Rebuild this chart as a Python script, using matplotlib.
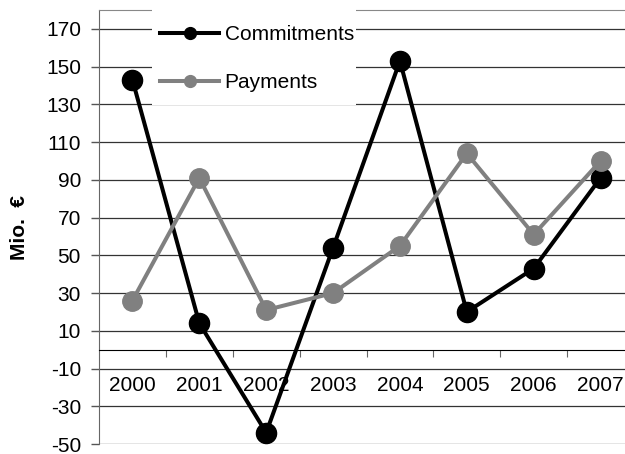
import matplotlib.pyplot as plt
from matplotlib.lines import Line2D
from matplotlib.patches import Rectangle
import numpy as np

plt.rcParams['font.family'] = ['Liberation Sans', 'DejaVu Sans']
plt.rcParams['axes.unicode_minus'] = False

# Данные
years = ["2000", "2001", "2002", "2003", "2004", "2005", "2006", "2007"]
commitments = [143, 14, -44, 54, 153, 20, 43, 91]
payments = [26, 91, 21, 30, 55, 104, 61, 100]
y_ticks = [-50, -30, -10, 10, 30, 50, 70, 90, 110, 130, 150, 170]

fig = plt.figure(figsize=(6.25, 4.54), dpi=100)
ax = fig.add_axes([99 / 625, 10 / 454, 535 / 625, 434 / 454])

x = np.arange(len(years))
ax.plot(x, commitments, color="black", lw=2.9, marker="o", ms=14.5, zorder=3)
ax.plot(x, payments, color="#808080", lw=2.9, marker="o", ms=14, zorder=4)

ax.set_xlim(-0.5, len(years) - 0.5)
ax.set_ylim(-50, 180)
ax.set_yticks(y_ticks)
ax.tick_params(axis="y", labelsize=15, length=6, width=1, color="#555555", pad=7)
ax.grid(axis="y", color="#333333", lw=0.9)
ax.set_axisbelow(True)

# ось X на нуле
ax.spines["bottom"].set_position(("data", 0))
ax.spines["bottom"].set_color("black")
ax.spines["right"].set_visible(False)
ax.spines["top"].set_color("#888888")
ax.spines["left"].set_color("#666666")
ax.set_xticks(x[:-1] + 0.5)
ax.set_xticklabels([])
ax.tick_params(axis="x", length=5, color="#666666", direction="out")
for i, yr in enumerate(years):
    ax.text(i, -19, yr, ha="center", va="center", fontsize=15)

ax.set_ylabel("Mio.  €", fontsize=15, fontweight="bold", labelpad=12)

# белый фон под легендой
ax.add_patch(Rectangle((152 / 625, 1 - 105 / 454), 204 / 625, 105 / 454,
                       transform=fig.transFigure, facecolor="white",
                       edgecolor="none", clip_on=False, zorder=2.6))

handles = [
    Line2D([], [], color="black", lw=2.9, marker="o", ms=8.5),
    Line2D([], [], color="#808080", lw=2.9, marker="o", ms=8.5),
]
leg = ax.legend(handles, ["Commitments", "Payments"], loc="upper left",
                bbox_to_anchor=(160 / 625, 1 - 25 / 454), bbox_transform=fig.transFigure,
                fontsize=15, frameon=False, handlelength=2.85, handletextpad=0.25,
                labelspacing=1.39, borderpad=0, borderaxespad=0)
leg.set_zorder(5)

fig.savefig("out.png", dpi=100)
